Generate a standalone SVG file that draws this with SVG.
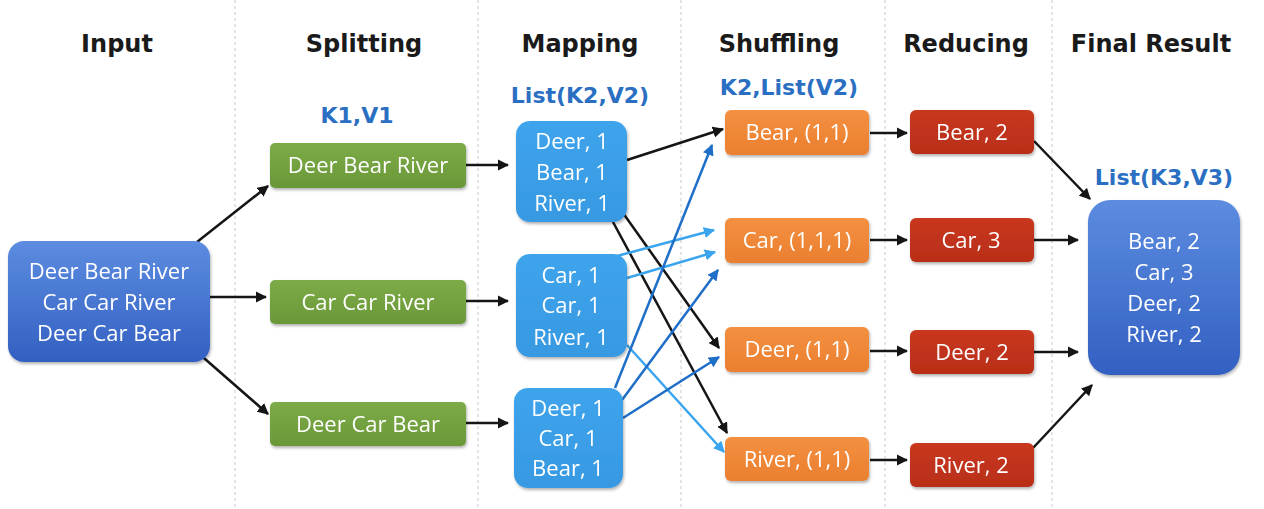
<svg xmlns="http://www.w3.org/2000/svg" width="1264" height="509" viewBox="0 0 1264 509">
<defs>
<style>
.hdr{font-family:"DejaVu Sans",Verdana,sans-serif;font-weight:bold;font-size:24px;fill:#1a1a1a;text-anchor:middle}
.kv{font-family:"DejaVu Sans",Verdana,sans-serif;font-weight:bold;font-size:22px;fill:#2b6fc3;text-anchor:middle}
.t{font-family:"Open Sans","Noto Sans",sans-serif;font-size:22px;fill:#ffffff;text-anchor:middle}
.grid{stroke:#c8c8c8;stroke-width:1;stroke-dasharray:3 3}
.blk{stroke:#151515;stroke-width:2.5;fill:none;marker-end:url(#ab)}
.lb{stroke:#3aa5ee;stroke-width:2.5;fill:none;marker-end:url(#alb)}
.db{stroke:#1f6ec8;stroke-width:2.5;fill:none;marker-end:url(#adb)}
</style>
<linearGradient id="gBlue" x1="0" y1="0" x2="0" y2="1"><stop offset="0" stop-color="#5c8ce0"/><stop offset="1" stop-color="#3360c2"/></linearGradient>
<linearGradient id="gGreen" x1="0" y1="0" x2="0" y2="1"><stop offset="0" stop-color="#7dab47"/><stop offset="1" stop-color="#6a9838"/></linearGradient>
<linearGradient id="gMap" x1="0" y1="0" x2="0" y2="1"><stop offset="0" stop-color="#3ea4ec"/><stop offset="1" stop-color="#3799e2"/></linearGradient>
<linearGradient id="gOr" x1="0" y1="0" x2="0" y2="1"><stop offset="0" stop-color="#f49040"/><stop offset="1" stop-color="#ea7f30"/></linearGradient>
<linearGradient id="gRed" x1="0" y1="0" x2="0" y2="1"><stop offset="0" stop-color="#c8371f"/><stop offset="1" stop-color="#b92e18"/></linearGradient>
<filter id="sh" x="-10%" y="-10%" width="120%" height="130%"><feDropShadow dx="1" dy="2" stdDeviation="1.5" flood-color="#000" flood-opacity="0.3"/></filter>
<marker id="ab" viewBox="0 0 10 10" refX="9" refY="5" markerWidth="4.5" markerHeight="4.5" orient="auto" markerUnits="strokeWidth"><path d="M0,0 L10,5 L0,10 z" fill="#151515"/></marker>
<marker id="alb" viewBox="0 0 10 10" refX="9" refY="5" markerWidth="4.5" markerHeight="4.5" orient="auto" markerUnits="strokeWidth"><path d="M0,0 L10,5 L0,10 z" fill="#3aa5ee"/></marker>
<marker id="adb" viewBox="0 0 10 10" refX="9" refY="5" markerWidth="4.5" markerHeight="4.5" orient="auto" markerUnits="strokeWidth"><path d="M0,0 L10,5 L0,10 z" fill="#1f6ec8"/></marker>
</defs>
<rect width="1264" height="509" fill="#ffffff"/>
<g id="gridlines">
<line class="grid" x1="235" y1="0" x2="235" y2="509"/>
<line class="grid" x1="478" y1="0" x2="478" y2="509"/>
<line class="grid" x1="681" y1="0" x2="681" y2="509"/>
<line class="grid" x1="885" y1="0" x2="885" y2="509"/>
<line class="grid" x1="1052" y1="0" x2="1052" y2="509"/>
</g>
<g id="headers">
<text class="hdr" x="117" y="52">Input</text>
<text class="hdr" x="364" y="52">Splitting</text>
<text class="hdr" x="580" y="52">Mapping</text>
<text class="hdr" x="779" y="52">Shuffling</text>
<text class="hdr" x="966" y="52">Reducing</text>
<text class="hdr" x="1151" y="52">Final Result</text>
<text class="kv" x="357" y="123">K1,V1</text>
<text class="kv" x="580" y="103">List(K2,V2)</text>
<text class="kv" x="789" y="95">K2,List(V2)</text>
<text class="kv" x="1164" y="185">List(K3,V3)</text>
</g>
<g id="connectors">
<line class="blk" x1="197" y1="242" x2="268" y2="186"/>
<line class="blk" x1="210" y1="297" x2="266" y2="297"/>
<line class="blk" x1="197" y1="352" x2="268" y2="414"/>
<line class="blk" x1="466" y1="165" x2="508" y2="165"/>
<line class="blk" x1="466" y1="301" x2="508" y2="301"/>
<line class="blk" x1="466" y1="423" x2="508" y2="423"/>
<line class="blk" x1="627" y1="160" x2="723" y2="129"/>
<line class="blk" x1="623" y1="213" x2="719" y2="348"/>
<line class="blk" x1="613" y1="222" x2="727" y2="433"/>
<line class="lb" x1="617" y1="256" x2="714" y2="230"/>
<line class="lb" x1="627" y1="278" x2="715" y2="252"/>
<line class="lb" x1="627" y1="345" x2="724" y2="452"/>
<line class="db" x1="615" y1="388" x2="712" y2="145"/>
<line class="db" x1="622" y1="400" x2="718" y2="270"/>
<line class="db" x1="623" y1="418" x2="719" y2="357"/>
<line class="blk" x1="870" y1="133" x2="907" y2="133"/>
<line class="blk" x1="870" y1="240" x2="907" y2="240"/>
<line class="blk" x1="870" y1="351" x2="907" y2="351"/>
<line class="blk" x1="870" y1="460" x2="907" y2="460"/>
<line class="blk" x1="1034" y1="141" x2="1090" y2="199"/>
<line class="blk" x1="1034" y1="240" x2="1078" y2="240"/>
<line class="blk" x1="1034" y1="352" x2="1078" y2="352"/>
<line class="blk" x1="1033" y1="448" x2="1092" y2="385"/>
</g>
<g id="input" filter="url(#sh)">
<rect x="8" y="241" width="202" height="121" rx="16" fill="url(#gBlue)"/>
<text class="t" x="109" y="279">Deer Bear River</text>
<text class="t" x="109" y="310">Car Car River</text>
<text class="t" x="109" y="341">Deer Car Bear</text>
</g>
<g id="split1" filter="url(#sh)"><rect x="270" y="143" width="196" height="45" rx="5" fill="url(#gGreen)"/><text class="t" x="368" y="173">Deer Bear River</text></g>
<g id="split2" filter="url(#sh)"><rect x="270" y="280" width="196" height="44" rx="5" fill="url(#gGreen)"/><text class="t" x="368" y="310">Car Car River</text></g>
<g id="split3" filter="url(#sh)"><rect x="270" y="402" width="196" height="44" rx="5" fill="url(#gGreen)"/><text class="t" x="368" y="432">Deer Car Bear</text></g>
<g id="map1" filter="url(#sh)"><rect x="516" y="121" width="111" height="101" rx="14" fill="url(#gMap)"/>
<text class="t" x="572" y="149">Deer, 1</text><text class="t" x="572" y="180">Bear, 1</text><text class="t" x="572" y="211">River, 1</text></g>
<g id="map2" filter="url(#sh)"><rect x="516" y="254" width="111" height="103" rx="14" fill="url(#gMap)"/>
<text class="t" x="571" y="283">Car, 1</text><text class="t" x="571" y="313">Car, 1</text><text class="t" x="571" y="345">River, 1</text></g>
<g id="map3" filter="url(#sh)"><rect x="514" y="388" width="109" height="100" rx="14" fill="url(#gMap)"/>
<text class="t" x="568" y="416">Deer, 1</text><text class="t" x="568" y="446">Car, 1</text><text class="t" x="568" y="476">Bear, 1</text></g>
<g id="shuf1" filter="url(#sh)"><rect x="725" y="110" width="144" height="45" rx="6" fill="url(#gOr)"/><text class="t" x="797" y="140">Bear, (1,1)</text></g>
<g id="shuf2" filter="url(#sh)"><rect x="725" y="218" width="144" height="45" rx="6" fill="url(#gOr)"/><text class="t" x="797" y="248">Car, (1,1,1)</text></g>
<g id="shuf3" filter="url(#sh)"><rect x="725" y="327" width="144" height="45" rx="6" fill="url(#gOr)"/><text class="t" x="797" y="357">Deer, (1,1)</text></g>
<g id="shuf4" filter="url(#sh)"><rect x="725" y="437" width="144" height="44" rx="6" fill="url(#gOr)"/><text class="t" x="797" y="467">River, (1,1)</text></g>
<g id="red1" filter="url(#sh)"><rect x="910" y="110" width="124" height="44" rx="6" fill="url(#gRed)"/><text class="t" x="972" y="140">Bear, 2</text></g>
<g id="red2" filter="url(#sh)"><rect x="910" y="218" width="124" height="44" rx="6" fill="url(#gRed)"/><text class="t" x="971" y="248">Car, 3</text></g>
<g id="red3" filter="url(#sh)"><rect x="910" y="330" width="124" height="44" rx="6" fill="url(#gRed)"/><text class="t" x="972" y="360">Deer, 2</text></g>
<g id="red4" filter="url(#sh)"><rect x="910" y="443" width="124" height="44" rx="6" fill="url(#gRed)"/><text class="t" x="971" y="473">River, 2</text></g>
<g id="final" filter="url(#sh)"><rect x="1088" y="200" width="152" height="175" rx="22" fill="url(#gBlue)"/>
<text class="t" x="1164" y="249">Bear, 2</text><text class="t" x="1164" y="280">Car, 3</text><text class="t" x="1164" y="311">Deer, 2</text><text class="t" x="1164" y="342">River, 2</text></g>
</svg>
